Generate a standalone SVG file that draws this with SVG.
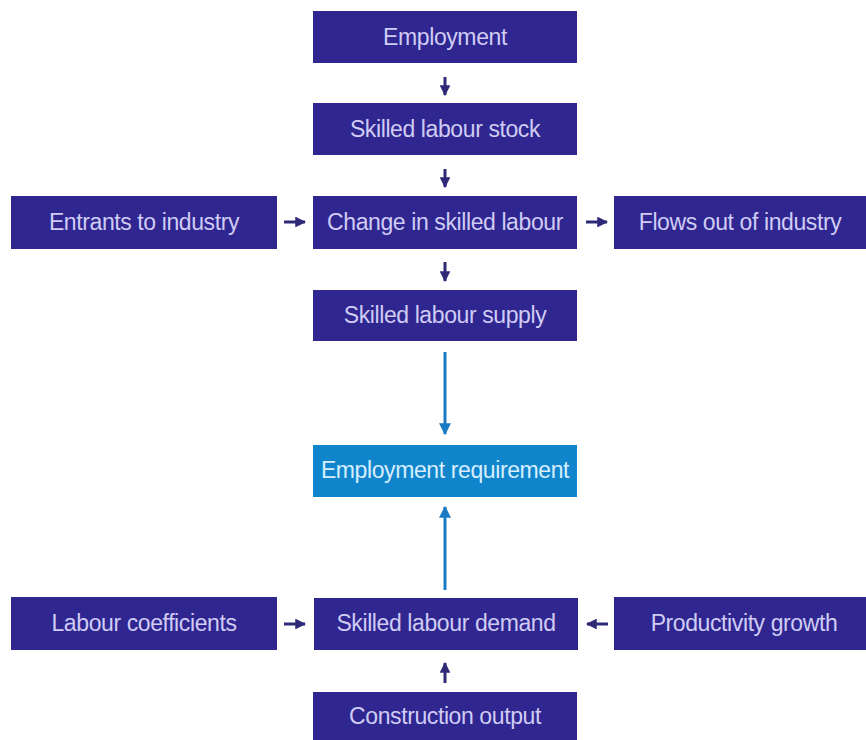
<svg xmlns="http://www.w3.org/2000/svg" width="866" height="740" viewBox="0 0 866 740">
<defs>
<style>
.box{fill:#2f2690;}
.hl{fill:#1185cc;}
.t{font-family:"Liberation Sans",Arial,sans-serif;font-size:23px;fill:#d0ccf4;text-anchor:middle;letter-spacing:-0.4px;}
.th{fill:#d6eefc;}
.c{stroke:#2f2a78;stroke-width:3;fill:none;}
.cb{stroke:#1a7bc4;stroke-width:3;fill:none;}
</style>
<marker id="ah" viewBox="0 0 10 10" refX="9" refY="5" markerWidth="3.6" markerHeight="3.6" orient="auto" markerUnits="strokeWidth">
<path d="M0,0 L10,5 L0,10 z" fill="#2f2a78"/>
</marker>
<marker id="ahb" viewBox="0 0 10 10" refX="9" refY="5" markerWidth="4" markerHeight="4" orient="auto" markerUnits="strokeWidth">
<path d="M0,0 L10,5 L0,10 z" fill="#1a7bc4"/>
</marker>
</defs>
<rect width="866" height="740" fill="#ffffff"/>
<g id="connectors">
<line class="c" x1="445" y1="77" x2="445" y2="95" marker-end="url(#ah)"/>
<line class="c" x1="445" y1="169" x2="445" y2="187" marker-end="url(#ah)"/>
<line class="c" x1="284" y1="222" x2="305" y2="222" marker-end="url(#ah)"/>
<line class="c" x1="586" y1="222" x2="607" y2="222" marker-end="url(#ah)"/>
<line class="c" x1="445" y1="262" x2="445" y2="281" marker-end="url(#ah)"/>
<line class="cb" x1="445" y1="352" x2="445" y2="434" marker-end="url(#ahb)"/>
<line class="cb" x1="445" y1="590" x2="445" y2="507" marker-end="url(#ahb)"/>
<line class="c" x1="284" y1="624" x2="305" y2="624" marker-end="url(#ah)"/>
<line class="c" x1="608" y1="624" x2="587" y2="624" marker-end="url(#ah)"/>
<line class="c" x1="445" y1="683" x2="445" y2="663" marker-end="url(#ah)"/>
</g>
<g id="employment"><rect class="box" x="313" y="11" width="264" height="52"/><text class="t" x="445" y="45">Employment</text></g>
<g id="skilled-labour-stock"><rect class="box" x="313" y="103" width="264" height="52"/><text class="t" x="445" y="137">Skilled labour stock</text></g>
<g id="entrants"><rect class="box" x="11" y="196" width="266" height="53"/><text class="t" x="144" y="230">Entrants to industry</text></g>
<g id="change"><rect class="box" x="313" y="196" width="264" height="53"/><text class="t" x="445" y="230">Change in skilled labour</text></g>
<g id="flows-out"><rect class="box" x="614" y="196" width="252" height="53"/><text class="t" x="740" y="230">Flows out of industry</text></g>
<g id="skilled-labour-supply"><rect class="box" x="313" y="290" width="264" height="51"/><text class="t" x="445" y="323">Skilled labour supply</text></g>
<g id="employment-requirement"><rect class="hl" x="313" y="445" width="264" height="52"/><text class="t th" x="445" y="478">Employment requirement</text></g>
<g id="labour-coefficients"><rect class="box" x="11" y="597" width="266" height="53"/><text class="t" x="144" y="631">Labour coefficients</text></g>
<g id="skilled-labour-demand"><rect class="box" x="314" y="598" width="264" height="52"/><text class="t" x="446" y="631">Skilled labour demand</text></g>
<g id="productivity-growth"><rect class="box" x="614" y="597" width="252" height="53"/><text class="t" x="744" y="631">Productivity growth</text></g>
<g id="construction-output"><rect class="box" x="313" y="692" width="264" height="48"/><text class="t" x="445" y="724">Construction output</text></g>
</svg>
